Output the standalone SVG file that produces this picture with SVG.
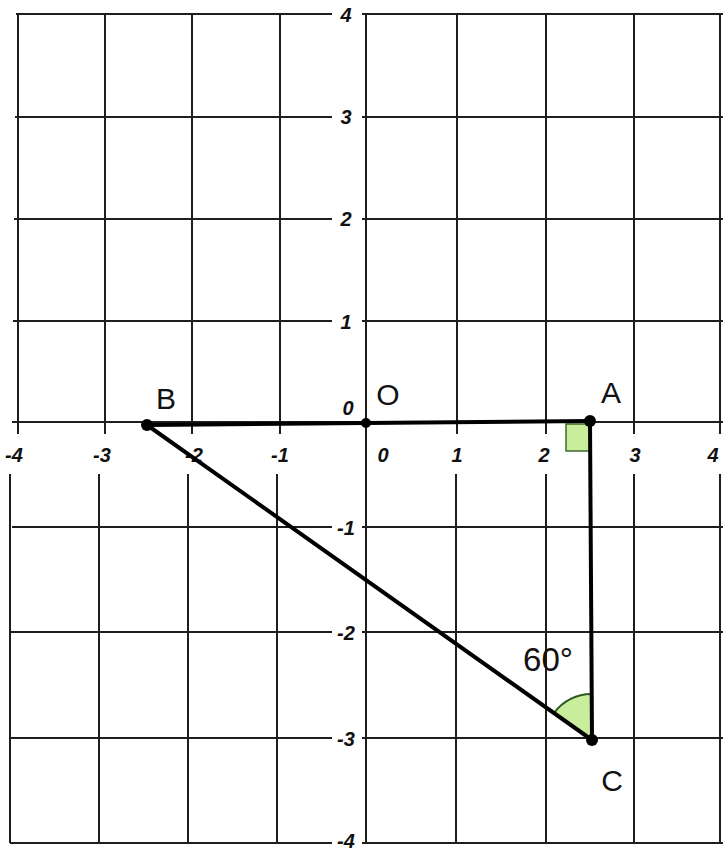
<svg xmlns="http://www.w3.org/2000/svg" width="723" height="851" viewBox="0 0 723 851">
<style>
.g{stroke:#1e1e1e;stroke-width:2;fill:none}
.seg{stroke:#000;stroke-width:4;fill:none;stroke-linecap:round}
.num{font-family:"Liberation Sans",Arial,sans-serif;font-weight:bold;font-style:italic;font-size:20px;fill:#111;text-anchor:middle}
.lbl{font-family:"Liberation Sans",Arial,sans-serif;font-size:30px;fill:#111;text-anchor:middle}
</style>
<rect width="723" height="851" fill="#fff"/>
<g id="grid">
<path class="g" d="M16 14H332M362 14H723 M15 117H332M362 117H723 M14 219H332M362 219H723 M13 321H332M362 321H723 M12 527H332M362 527H723 M11 632H332M362 632H723 M10 738H332M362 738H723 M10 843H332M362 843H723"/>
<path class="g" d="M12 422H723"/>
<path class="g" d="M18 14V434M10 474V843 M105 14V434M99 474V843 M192 14V434M188 474V843 M280 14V434M277 474V843 M457 14V434M456 474V843 M546 14V434M546 474V843 M634 14V434M634 474V843 M720 14V434M720 474V843"/>
<path class="g" d="M366 14V843"/>
</g>
<g id="axis-labels">
<text class="num" x="346" y="22">4</text>
<text class="num" x="346" y="124">3</text>
<text class="num" x="346" y="226">2</text>
<text class="num" x="346" y="329">1</text>
<text class="num" x="348" y="415">0</text>
<text class="num" x="346" y="535">-1</text>
<text class="num" x="346" y="640">-2</text>
<text class="num" x="346" y="746">-3</text>
<text class="num" x="346" y="848">-4</text>
<text class="num" x="14" y="462">-4</text>
<text class="num" x="102" y="462">-3</text>
<text class="num" x="194" y="462">-2</text>
<text class="num" x="280" y="462">-1</text>
<text class="num" x="383" y="462">0</text>
<text class="num" x="457" y="462">1</text>
<text class="num" x="544" y="462">2</text>
<text class="num" x="635" y="462">3</text>
<text class="num" x="713" y="462">4</text>
</g>
<g id="connectors">
<path d="M566 424H590V451H566Z" fill="#c9ee9b" stroke="#3a6a2a" stroke-width="1.5"/>
<path d="M592 740L592 694A46 46 0 0 0 554 713Z" fill="#c9ee9b" stroke="none"/>
<path d="M592 694A46 46 0 0 0 554 713" fill="none" stroke="#2d5a26" stroke-width="2"/>
<path class="seg" d="M147 425L366 423L590 421"/>
<path class="seg" d="M590 421L592 740"/>
<path class="seg" d="M147 425L592 740"/>
</g>
<g id="B"><circle cx="147" cy="425" r="6" fill="#000"/><text class="lbl" x="166" y="409">B</text></g>
<g id="O"><circle cx="366" cy="423" r="5" fill="#000"/><text class="lbl" x="388" y="405">O</text></g>
<g id="A"><circle cx="590" cy="421" r="6" fill="#000"/><text class="lbl" x="611" y="403">A</text></g>
<g id="C"><circle cx="592" cy="740" r="6" fill="#000"/><text class="lbl" x="612" y="791">C</text></g>
<g id="angle"><text class="lbl" x="548" y="671" style="font-size:33px">60°</text></g>
</svg>
